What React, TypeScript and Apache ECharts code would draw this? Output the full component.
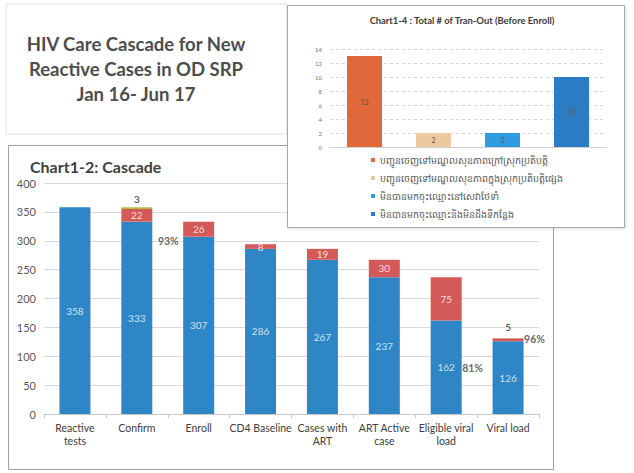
import React, { useEffect, useRef } from "react";
import * as echarts from "echarts";

// Cascade chart (Chart1-2)
const cascadeCategories = [
  "Reactive\ntests",
  "Confirm",
  "Enroll",
  "CD4 Baseline",
  "Cases with\nART",
  "ART Active\ncase",
  "Eligible viral\nload",
  "Viral load",
];
const retainedValues = [358, 333, 307, 286, 267, 237, 162, 126];
const lostValues: (number | null)[] = [null, 22, 26, 8, 19, 30, 75, 5];
const otherValues: (number | null)[] = [null, 3, null, null, null, null, null, null];
const cascadeTicks = [0, 50, 100, 150, 200, 250, 300, 350, 400];

// Percentage call-outs: [category index, height, text]
const percentCategory = [2, 6, 7];
const percentHeight = [300, 80, 130];
const percentText = ["93%", "81%", "96%"];

// Transfer-out chart (Chart1-4)
const tranOutNames = [
  "បញ្ជូនចេញទៅមណ្ឌលសុខភាពក្រៅស្រុកប្រតិបត្តិ",
  "បញ្ជូនចេញទៅមណ្ឌលសុខភាពក្នុងស្រុកប្រតិបត្តិផ្សេង",
  "មិនបានមកចុះឈ្មោះនៅសេវាថែទាំ",
  "មិនបានមកចុះឈ្មោះនិងមិនដឹងទីកន្លែង",
];
const tranOutValues = [13, 2, 2, 10];
const tranOutTicks = [0, 2, 4, 6, 8, 10, 12, 14];

const BLUE = "#2f86c6";
const RED = "#d35a57";
const OLIVE = "#b3bd4a";
const tranOutColors = ["#e0683a", "#eccaa0", "#2f9be0", "#2b7cc3"];

const FONT = "Lato, 'Open Sans', sans-serif";

export default function App() {
  const ref = useRef<HTMLDivElement>(null);

  useEffect(() => {
    if (!ref.current) return;
    const chart = echarts.init(ref.current, undefined, { renderer: "svg" });

    const lostData = lostValues.map((v, i) =>
      i === lostValues.length - 1
        ? {
            value: v,
            label: {
              show: true,
              position: "top",
              distance: 6,
              color: "#333",
            },
          }
        : v
    );

    const percentData = percentCategory.map((c, i) => ({
      value: [c, percentHeight[i]],
      label: {
        show: true,
        formatter: percentText[i],
        position: i === 0 ? "left" : "right",
        distance: i === 0 ? 20 : 16,
      },
    }));

    const tranOutSeries = tranOutNames.map((name, i) => ({
      name,
      type: "bar",
      xAxisIndex: 1,
      yAxisIndex: 1,
      stack: "tranOut",
      barWidth: 35,
      z: 4,
      itemStyle: { color: tranOutColors[i] },
      label: {
        show: true,
        position: "inside",
        color: "#6b5040",
        fontSize: 7,
        fontFamily: FONT,
      },
      data: tranOutValues.map((v, j) => (j === i ? v : null)),
    }));

    chart.setOption({
      animation: false,
      backgroundColor: "#ffffff",
      textStyle: { fontFamily: FONT },
      graphic: [
        {
          type: "rect",
          z: 0,
          shape: { x: 6, y: 4, width: 281, height: 130 },
          style: { fill: "none", stroke: "#e0e0e0", lineWidth: 1 },
        },
        {
          type: "text",
          z: 0,
          x: 136,
          y: 69,
          style: {
            text: "HIV Care Cascade for New\nReactive Cases in OD SRP\nJan 16- Jun 17",
            align: "center",
            verticalAlign: "middle",
            fill: "#4d4d4d",
            font: `bold 18.5px ${FONT}`,
            lineHeight: 25,
          },
        },
        {
          type: "rect",
          z: 0,
          shape: { x: 8.5, y: 145.5, width: 545, height: 324 },
          style: { fill: "none", stroke: "#a0a0a0", lineWidth: 1 },
        },
        {
          type: "text",
          z: 0,
          x: 30,
          y: 166,
          style: {
            text: "Chart1-2: Cascade",
            verticalAlign: "middle",
            fill: "#404040",
            font: `bold 16px ${FONT}`,
          },
        },
        {
          type: "rect",
          z: 1,
          shape: { x: 287.5, y: 5.5, width: 337, height: 222 },
          style: {
            fill: "#ffffff",
            stroke: "#a8a8a8",
            lineWidth: 1,
            shadowColor: "rgba(0,0,0,0.12)",
            shadowBlur: 3,
            shadowOffsetX: 1,
            shadowOffsetY: 1,
          },
        },
        {
          type: "text",
          z: 10,
          x: 462,
          y: 20,
          style: {
            text: "Chart1-4 : Total # of Tran-Out (Before Enroll)",
            align: "center",
            verticalAlign: "middle",
            fill: "#3a3a3a",
            font: `bold 9.4px ${FONT}`,
          },
        },
      ],
      legend: {
        orient: "vertical",
        left: 366,
        top: 150,
        itemWidth: 4,
        itemHeight: 4,
        itemGap: 8,
        icon: "rect",
        z: 10,
        textStyle: { fontSize: 9.5, color: "#555", fontFamily: FONT },
        data: tranOutNames,
      },
      grid: [
        { left: 44, width: 495, top: 183, height: 231 },
        { left: 330, width: 276, top: 49, height: 98 },
      ],
      xAxis: [
        {
          type: "category",
          gridIndex: 0,
          data: cascadeCategories,
          z: 0,
          axisLine: { lineStyle: { color: "#c8c8c8" } },
          axisTick: { show: true, length: 4, lineStyle: { color: "#c8c8c8" } },
          axisLabel: {
            color: "#404040",
            fontSize: 10.5,
            margin: 7,
            lineHeight: 13,
            interval: 0,
            fontFamily: FONT,
          },
        },
        {
          type: "category",
          gridIndex: 1,
          data: ["", "", "", ""],
          z: 3,
          axisLine: { lineStyle: { color: "#d0d0d0" } },
          axisTick: { show: false },
          axisLabel: { show: false },
        },
      ],
      yAxis: [
        {
          type: "value",
          gridIndex: 0,
          min: cascadeTicks[0],
          max: cascadeTicks[cascadeTicks.length - 1],
          interval: cascadeTicks[1] - cascadeTicks[0],
          z: 0,
          axisLine: { show: false },
          axisTick: { show: false },
          splitLine: { lineStyle: { color: "#d9d9d9" } },
          axisLabel: { color: "#595959", fontSize: 11, margin: 8, fontFamily: FONT },
        },
        {
          type: "value",
          gridIndex: 1,
          min: tranOutTicks[0],
          max: tranOutTicks[tranOutTicks.length - 1],
          interval: tranOutTicks[1] - tranOutTicks[0],
          z: 3,
          axisLine: { show: false },
          axisTick: { show: false },
          splitLine: { lineStyle: { color: "#d6d6d6", type: [3, 3] } },
          axisLabel: { color: "#777", fontSize: 6, margin: 8, fontFamily: FONT },
        },
      ],
      series: [
        {
          name: "Retained",
          type: "bar",
          stack: "cascade",
          barWidth: 31,
          itemStyle: { color: BLUE },
          label: {
            show: true,
            position: "inside",
            color: "#cfe2f3",
            fontSize: 10,
            fontFamily: FONT,
          },
          data: retainedValues,
        },
        {
          name: "Lost",
          type: "bar",
          stack: "cascade",
          barWidth: 31,
          itemStyle: { color: RED },
          label: {
            show: true,
            position: "inside",
            color: "#f6dcdc",
            fontSize: 10,
            fontFamily: FONT,
          },
          data: lostData,
        },
        {
          name: "Other",
          type: "bar",
          stack: "cascade",
          barWidth: 31,
          itemStyle: { color: OLIVE },
          label: {
            show: true,
            position: "top",
            distance: 3,
            color: "#333",
            fontSize: 10,
            fontFamily: FONT,
          },
          data: otherValues,
        },
        {
          name: "Percent",
          type: "scatter",
          symbolSize: 0,
          z: 5,
          label: {
            color: "#404040",
            fontSize: 10.5,
            fontWeight: "bold",
            fontFamily: FONT,
          },
          data: percentData,
        },
        ...tranOutSeries,
      ],
    });

    return () => chart.dispose();
  }, []);

  return (
    <div
      ref={ref}
      style={{ position: "fixed", left: 0, top: 0, width: 634, height: 473 }}
    />
  );
}
